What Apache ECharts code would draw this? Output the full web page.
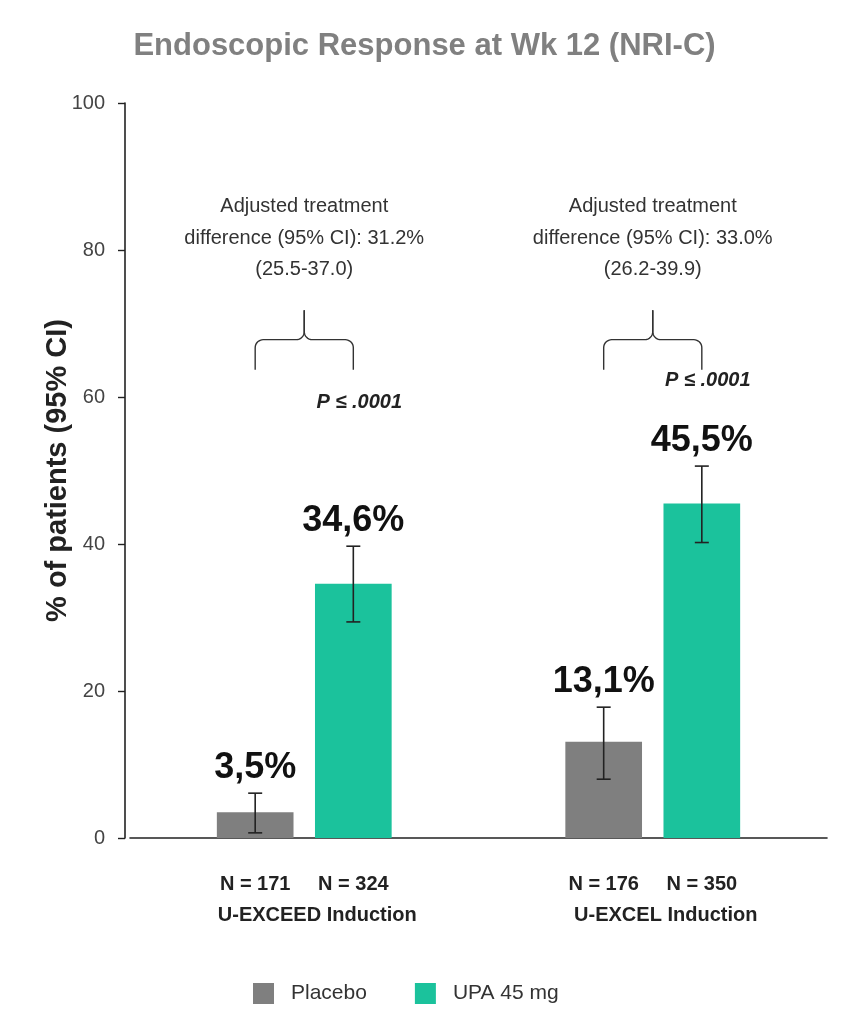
<!DOCTYPE html>
<html>
<head>
<meta charset="utf-8">
<script src="https://cdn.jsdelivr.net/npm/echarts@6/dist/echarts.min.js"></script>
<style>
html,body{margin:0;padding:0;background:#fff;}
#chart{width:849px;height:1011px;}
</style>
</head>
<body>
<div id="chart"></div>
<script>
// ---- data ----
var titleText = 'Endoscopic Response at Wk 12 (NRI-C)';
var categories = ['U-EXCEED Induction', 'U-EXCEL Induction'];
var seriesNames = ['Placebo', 'UPA 45 mg'];
var placeboValues = [3.5, 13.1];
var upaValues = [34.6, 45.5];
var placeboCI = [[0.7, 6.1], [8.0, 17.8]];
var upaCI = [[29.4, 39.7], [40.2, 50.6]];
var placeboN = [171, 176];
var upaN = [324, 350];
var diffValue = ['31.2%', '33.0%'];
var diffCI = ['25.5-37.0', '26.2-39.9'];
var pText = ['P \u2264 .0001', 'P \u2264 .0001'];
var pLevel = [59.3, 62.3];
var braceLevels = [[63.7, 67.8, 71.8], [63.7, 67.8, 71.8]];
var annotationLevel = [88.0, 88.0];
var yTicks = [0, 20, 40, 60, 80, 100];

var colors = ['#7f7f7f', '#1bc29c'];
var FONT = 'Arial, "Liberation Sans", sans-serif';
var BAR_W = 0.22, BAR_GAP = 0.28;

function fmt(v) { return v.toFixed(1).replace('.', ',') + '%'; }

function barOffset(api, sign) {
  var band = api.size([1, 0])[0];
  var bw = band * BAR_W;
  return sign * (bw + bw * BAR_GAP) / 2;
}

function errorRenderer(sign) {
  return function (params, api) {
    var cat = api.value(0), lo = api.value(1), hi = api.value(2), val = api.value(3), n = api.value(4);
    var x = api.coord([cat, 0])[0] + barOffset(api, sign);
    var yLo = api.coord([cat, lo])[1];
    var yHi = api.coord([cat, hi])[1];
    var yBase = api.coord([cat, 0])[1];
    var cap = 7;
    var st = { stroke: '#222', lineWidth: 1.6 };
    return {
      type: 'group',
      children: [
        { type: 'line', shape: { x1: x, y1: yLo, x2: x, y2: yHi }, style: st },
        { type: 'line', shape: { x1: x - cap, y1: yLo, x2: x + cap, y2: yLo }, style: st },
        { type: 'line', shape: { x1: x - cap, y1: yHi, x2: x + cap, y2: yHi }, style: st },
        { type: 'text', x: x, y: yHi - 25, style: { text: fmt(val), fill: '#111', font: 'bold 36px ' + FONT, textAlign: 'center', textVerticalAlign: 'middle' } },
        { type: 'text', x: x, y: yBase + 46, style: { text: 'N = ' + n, fill: '#222', font: 'bold 20px ' + FONT, textAlign: 'center', textVerticalAlign: 'middle' } }
      ]
    };
  };
}

function arcPts(cx, cy, r, a0, a1) {
  var pts = [];
  for (var i = 0; i <= 8; i++) {
    var a = a0 + (a1 - a0) * i / 8;
    pts.push([cx + r * Math.cos(a), cy + r * Math.sin(a)]);
  }
  return pts;
}

function braceRenderer(params, api) {
  var cat = api.value(0);
  var cx = api.coord([cat, 0])[0];
  var xL = cx + barOffset(api, -1), xR = cx + barOffset(api, 1), xM = (xL + xR) / 2;
  var yB = api.coord([cat, api.value(1)])[1];
  var yH = api.coord([cat, api.value(2)])[1];
  var yT = api.coord([cat, api.value(3)])[1];
  var r = 8, PI = Math.PI;
  var left = [[xL, yB]].concat(arcPts(xL + r, yH + r, r, PI, 1.5 * PI))
    .concat(arcPts(xM - r, yH - r, r, 0.5 * PI, 0));
  left.push([xM, yT]);
  var right = [[xR, yB]].concat(arcPts(xR - r, yH + r, r, 0, -0.5 * PI))
    .concat(arcPts(xM + r, yH - r, r, 0.5 * PI, PI));
  right.push([xM, yT]);
  var st = { stroke: '#333', lineWidth: 1.4, fill: null };
  var yAnn = api.coord([cat, api.value(4)])[1];
  var xP = cx + barOffset(api, 1) + 6;
  var yP = api.coord([cat, api.value(5)])[1];
  return {
    type: 'group',
    children: [
      { type: 'polyline', shape: { points: left }, style: st },
      { type: 'polyline', shape: { points: right }, style: st },
      { type: 'text', x: cx, y: yAnn, style: {
        text: 'Adjusted treatment\ndifference (95% CI): ' + diffValue[cat] + '\n(' + diffCI[cat] + ')',
        fill: '#333', font: '20px ' + FONT, textAlign: 'center', textVerticalAlign: 'top', lineHeight: 31.5 } },
      { type: 'text', x: xP, y: yP, style: { text: pText[cat], fill: '#222', font: 'italic bold 20px ' + FONT, textAlign: 'center', textVerticalAlign: 'middle' } }
    ]
  };
}

var chart = echarts.init(document.getElementById('chart'), null, { renderer: 'canvas' });
chart.setOption({
  backgroundColor: '#ffffff',
  animation: false,
  color: colors,
  title: {
    text: titleText, left: 'center', top: 26,
    textStyle: { color: '#808080', fontSize: 31, fontWeight: 'bold', fontFamily: FONT }
  },
  legend: {
    data: seriesNames, left: 248, top: 978, itemWidth: 21, itemHeight: 21, itemGap: 48,
    icon: 'rect',
    textStyle: { color: '#333', fontSize: 21, fontFamily: FONT, padding: [0, 0, 0, 12] }
  },
  grid: { left: 130, right: 22, top: 103, bottom: 173, containLabel: false },
  xAxis: {
    type: 'category', data: categories,
    axisLine: { lineStyle: { color: '#222', width: 1.6 } },
    axisTick: { show: false },
    axisLabel: { margin: 67, color: '#222', fontSize: 20, fontWeight: 'bold', fontFamily: FONT, padding: [0, 0, 0, 26] }
  },
  yAxis: {
    type: 'value', min: 0, max: 100, interval: 20, offset: 5,
    name: '% of patients (95% CI)', nameLocation: 'middle', nameGap: 53, nameMoveOverlap: false,
    nameTextStyle: { color: '#222', fontSize: 29, fontWeight: 'bold', fontFamily: FONT },
    axisLine: { show: true, lineStyle: { color: '#222', width: 1.6 } },
    axisTick: { show: true, inside: false, length: 7, lineStyle: { color: '#222', width: 1.4 } },
    axisLabel: { margin: 20, color: '#444', fontSize: 20, fontFamily: FONT,
      formatter: function (v) { return yTicks.indexOf(v) >= 0 ? String(v) : ''; } },
    splitLine: { show: false }
  },
  series: [
    { name: seriesNames[0], type: 'bar', data: placeboValues, barWidth: (BAR_W * 100) + '%', barGap: (BAR_GAP * 100) + '%', itemStyle: { color: colors[0] } },
    { name: seriesNames[1], type: 'bar', data: upaValues, barWidth: (BAR_W * 100) + '%', barGap: (BAR_GAP * 100) + '%', itemStyle: { color: colors[1] } },
    { type: 'custom', name: 'placeboErr', renderItem: errorRenderer(-1), z: 5, silent: true,
      data: placeboValues.map(function (v, i) { return [i, placeboCI[i][0], placeboCI[i][1], v, placeboN[i]]; }) },
    { type: 'custom', name: 'upaErr', renderItem: errorRenderer(1), z: 5, silent: true,
      data: upaValues.map(function (v, i) { return [i, upaCI[i][0], upaCI[i][1], v, upaN[i]]; }) },
    { type: 'custom', name: 'braces', renderItem: braceRenderer, z: 5, silent: true,
      data: categories.map(function (c, i) { return [i, braceLevels[i][0], braceLevels[i][1], braceLevels[i][2], annotationLevel[i], pLevel[i]]; }) }
  ]
});
</script>
</body>
</html>
